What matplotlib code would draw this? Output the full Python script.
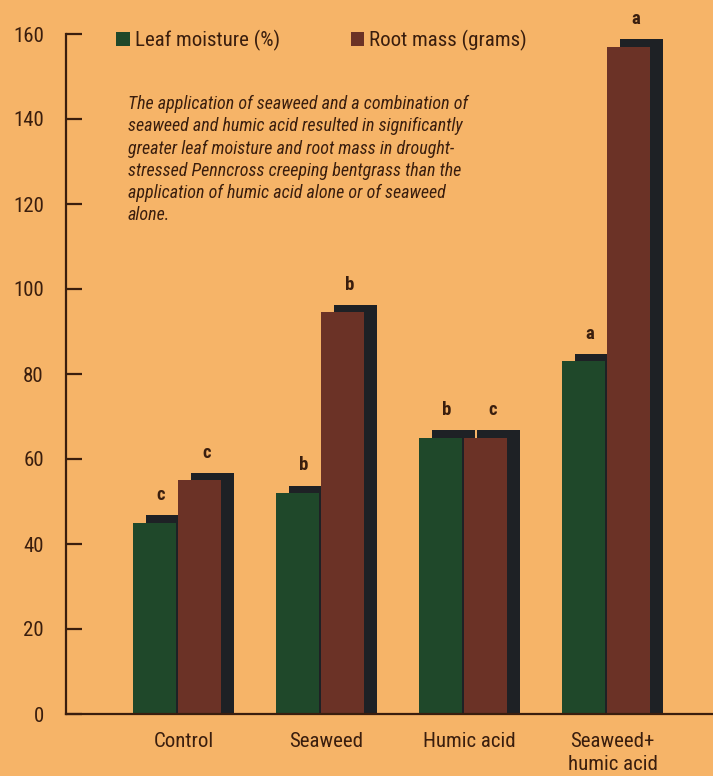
import numpy as np
import matplotlib
matplotlib.use("Agg")
import matplotlib.pyplot as plt
from matplotlib.patches import Patch

# data
groups = ["Control", "Seaweed", "Humic acid", "Seaweed+\nhumic acid"]
leaf_moisture = [45, 52, 65, 83]
root_mass = [55, 94.5, 65, 157]
leaf_letters = ["c", "b", "b", "a"]
root_letters = ["c", "b", "c", "a"]
y_ticks = [0, 20, 40, 60, 80, 100, 120, 140, 160]

note = ("The application of seaweed and a combination of\n"
        "seaweed and humic acid resulted in significantly\n"
        "greater leaf moisture and root mass in drought-\n"
        "stressed Penncross creeping bentgrass than the\n"
        "application of humic acid alone or of seaweed\n"
        "alone.")

# styling
BG = "#F6B468"
GREEN = "#1F482A"
BROWN = "#6B3226"
SHADOW = "#1E2125"
INK = "#3A1E0E"
FONT = ["Roboto Condensed", "Archivo Narrow", "DejaVu Sans"]

plt.rcParams["font.family"] = FONT

W, H = 713, 776
fig = plt.figure(figsize=(W / 100, H / 100), dpi=100, facecolor=BG)
ax = fig.add_axes([66 / W, 62 / H, 647 / W, 680 / H])
ax.set_facecolor(BG)

x = np.arange(len(groups))
bw = 0.30          # bar width (group spacing = 1)
off = 0.16         # bar centre offset from group boundary
sdx = 13 / 143     # shadow shift right
sdy = 1.76         # shadow shift up (data units)

leaf_x = x - off
root_x = x + off
leaf = np.array(leaf_moisture)
root = np.array(root_mass)

# shadows first, then bars on top
ax.bar(leaf_x + sdx, leaf + sdy, width=bw, color=SHADOW, zorder=1)
ax.bar(root_x + sdx, root + sdy, width=bw, color=SHADOW, zorder=1)
ax.bar(leaf_x, leaf, width=bw, color=GREEN, zorder=2)
ax.bar(root_x, root, width=bw, color=BROWN, zorder=2)

for xs, vals, letters in [(leaf_x, leaf, leaf_letters),
                          (root_x, root, root_letters)]:
    for xi, v, lt in zip(xs, vals, letters):
        ax.annotate(lt, (xi, v), xytext=(4.7, 19.8),
                    textcoords="offset points", ha="center", va="center",
                    fontsize=13.5, fontweight="bold", color=INK,
                    annotation_clip=False)

ax.set_xlim(-111 / 143, 536 / 143)
ax.set_ylim(0, 160)

ax.set_yticks(y_ticks)
ax.set_yticklabels([str(t) for t in y_ticks])
ax.set_xticks(x + 6.5 / 143)
ax.set_xticklabels(groups, linespacing=1.25)

for s in ["top", "right"]:
    ax.spines[s].set_visible(False)
for s in ["left", "bottom"]:
    ax.spines[s].set_linewidth(1.6)
    ax.spines[s].set_color(INK)
    ax.spines[s].set_zorder(3)

ax.tick_params(axis="y", direction="in", length=11.5, width=1.6,
               color=INK, labelcolor=INK, labelsize=15, pad=16)
ax.tick_params(axis="x", length=0, labelcolor=INK, labelsize=15, pad=13)

handles = [Patch(facecolor=GREEN, label="Leaf moisture (%)"),
           Patch(facecolor=BROWN, label="Root mass (grams)")]
leg = fig.legend(handles=handles, loc="upper left",
                 bbox_to_anchor=(116 / W, 1 - 30 / H), ncol=2,
                 frameon=False, fontsize=15, handlelength=0.65,
                 handleheight=0.65, handletextpad=0.25,
                 columnspacing=3.4, borderpad=0, borderaxespad=0)
for t in leg.get_texts():
    t.set_color(INK)

fig.text(128 / W, 1 - 95 / H, note, ha="left", va="top",
         fontsize=13, style="italic", color=INK, linespacing=1.3)

fig.savefig("out.png", dpi=100, facecolor=BG)
